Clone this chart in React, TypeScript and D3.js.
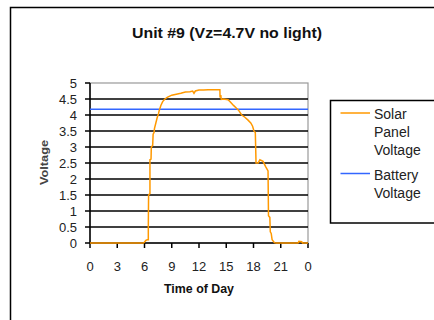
import React from "react";
import * as d3 from "d3";

const title = "Unit #9 (Vz=4.7V no light)";
const xTicks = [0, 3, 6, 9, 12, 15, 18, 21, 24];
const xTickLabels = ["0", "3", "6", "9", "12", "15", "18", "21", "0"];
const yTicks = [0, 0.5, 1, 1.5, 2, 2.5, 3, 3.5, 4, 4.5, 5];
const batteryVoltage = 4.18;

const solarTime = [
  0, 5.9, 6.0, 6.15, 6.3, 6.42, 6.42, 6.45, 6.6, 6.6, 6.72, 6.75, 6.9, 6.95, 7.05, 7.1, 7.25, 7.4, 7.55, 7.6,
  7.8, 8.0, 8.25, 8.5, 9.0, 9.5, 10.0, 10.5, 11.0, 11.3, 11.45, 11.6, 12.0, 12.5, 13.0, 13.5, 14.0, 14.3,
  14.32, 14.4, 14.45, 14.7, 15.2, 15.4, 15.8, 16.1, 16.35, 16.7, 17.05, 17.4, 17.7, 17.9, 18.05, 18.2,
  18.28, 18.5, 18.7, 19.05, 19.35, 19.6, 19.65, 19.8, 19.85, 19.95, 20.05, 20.3, 20.5, 22.9, 23.0, 23.3,
  23.4, 24,
];
const solarVoltage = [
  0, 0, 0.03, 0.08, 0.1, 0.1, 0.5, 1.5, 1.55, 2.6, 2.62, 3.0, 3.05, 3.4, 3.45, 3.58, 3.75, 3.92, 4.05, 4.12,
  4.3, 4.42, 4.5, 4.55, 4.62, 4.65, 4.68, 4.72, 4.73, 4.75, 4.68, 4.75, 4.78, 4.78, 4.79, 4.79, 4.79, 4.79,
  4.55, 4.62, 4.49, 4.5, 4.48, 4.42, 4.3, 4.22, 4.15, 4.0, 3.93, 3.84, 3.75, 3.65, 3.5, 3.45,
  2.5, 2.5, 2.6, 2.55, 2.38, 2.25, 0.85, 0.8, 0.35, 0.3, 0.1, 0.01, 0, 0, 0.05, 0.04,
  0, 0,
];

const legendLabels = [["Solar", "Panel", "Voltage"], ["Battery", "Voltage"]];

const FONT = "'Liberation Sans', Arial, sans-serif";
const ORANGE = "#FF9900";
const BLUE = "#3366FF";

export default function App() {
  const x = d3.scaleLinear().domain([0, 24]).range([90, 308]);
  const y = d3.scaleLinear().domain([0, 5]).range([243, 83]);
  const pts: [number, number][] = solarTime.map((t, i) => [t, solarVoltage[i]]);
  const line = d3
    .line<[number, number]>()
    .x((d) => x(d[0]))
    .y((d) => y(d[1]));

  return (
    <svg
      width={434}
      height={320}
      style={{ position: "absolute", left: 0, top: 0, display: "block", background: "#fff" }}
      fontFamily={FONT}
    >
      <rect x={0} y={0} width={434} height={320} fill="#fff" />
      {/* outer chart border */}
      <rect x={10.5} y={7.5} width={440} height={330} fill="none" stroke="#000" strokeWidth={1.5} />
      {/* title */}
      <text x={227} y={38} textAnchor="middle" fontSize={14} fontWeight="bold" fill="#111" textLength={190} lengthAdjust="spacingAndGlyphs">
        {title}
      </text>
      {/* plot area border (gray) */}
      <rect x={x(0)} y={y(5)} width={x(24) - x(0)} height={y(0) - y(5)} fill="none" stroke="#999" strokeWidth={1.2} />
      {/* gridlines */}
      {yTicks.filter((v) => v > 0 && v < 5).map((v) => (
        <line key={v} x1={x(0)} x2={x(24)} y1={y(v)} y2={y(v)} stroke="#000" strokeWidth={1.5} />
      ))}
      {/* axes */}
      <line x1={x(0)} x2={x(0)} y1={y(5)} y2={y(0)} stroke="#000" strokeWidth={1.5} />
      <line x1={x(0)} x2={x(24)} y1={y(0)} y2={y(0)} stroke="#000" strokeWidth={1.5} />
      {yTicks.map((v) => (
        <g key={"yt" + v}>
          <line x1={x(0) - 5} x2={x(0)} y1={y(v)} y2={y(v)} stroke="#000" strokeWidth={1.5} />
          <text x={77} y={y(v)} dy="0.35em" textAnchor="end" fontSize={13} fill="#222">
            {String(v)}
          </text>
        </g>
      ))}
      {xTicks.map((t, i) => (
        <g key={"xt" + t}>
          <line x1={x(t)} x2={x(t)} y1={y(0)} y2={y(0) + 5} stroke="#000" strokeWidth={1.5} />
          <text x={x(t)} y={271} textAnchor="middle" fontSize={13} fill="#222">
            {xTickLabels[i]}
          </text>
        </g>
      ))}
      {/* axis titles */}
      <text x={199} y={293} textAnchor="middle" fontSize={12} fontWeight="bold" fill="#111" textLength={70} lengthAdjust="spacingAndGlyphs">
        Time of Day
      </text>
      <text transform="translate(48,162.5) rotate(-90)" textAnchor="middle" fontSize={11} fontWeight="bold" fill="#444" textLength={45} lengthAdjust="spacingAndGlyphs">
        Voltage
      </text>
      {/* battery line */}
      <line x1={x(0)} x2={x(24)} y1={y(batteryVoltage)} y2={y(batteryVoltage)} stroke={BLUE} strokeWidth={1.5} />
      {/* solar line */}
      <path d={line(pts) || ""} fill="none" stroke={ORANGE} strokeWidth={1.5} strokeLinejoin="miter" />
      {/* legend */}
      <rect x={330.5} y={100.5} width={120} height={122.5} fill="#fff" stroke="#000" strokeWidth={1.5} />
      <line x1={340.5} x2={370} y1={113} y2={113} stroke={ORANGE} strokeWidth={1.5} />
      <line x1={340.5} x2={370} y1={173.5} y2={173.5} stroke={BLUE} strokeWidth={1.5} />
      {legendLabels[0].map((s, i) => (
        <text key={"l0" + i} x={374} y={119 + i * 18} fontSize={14} fill="#222">
          {s}
        </text>
      ))}
      {legendLabels[1].map((s, i) => (
        <text key={"l1" + i} x={374} y={180 + i * 18} fontSize={14} fill="#222">
          {s}
        </text>
      ))}
    </svg>
  );
}
